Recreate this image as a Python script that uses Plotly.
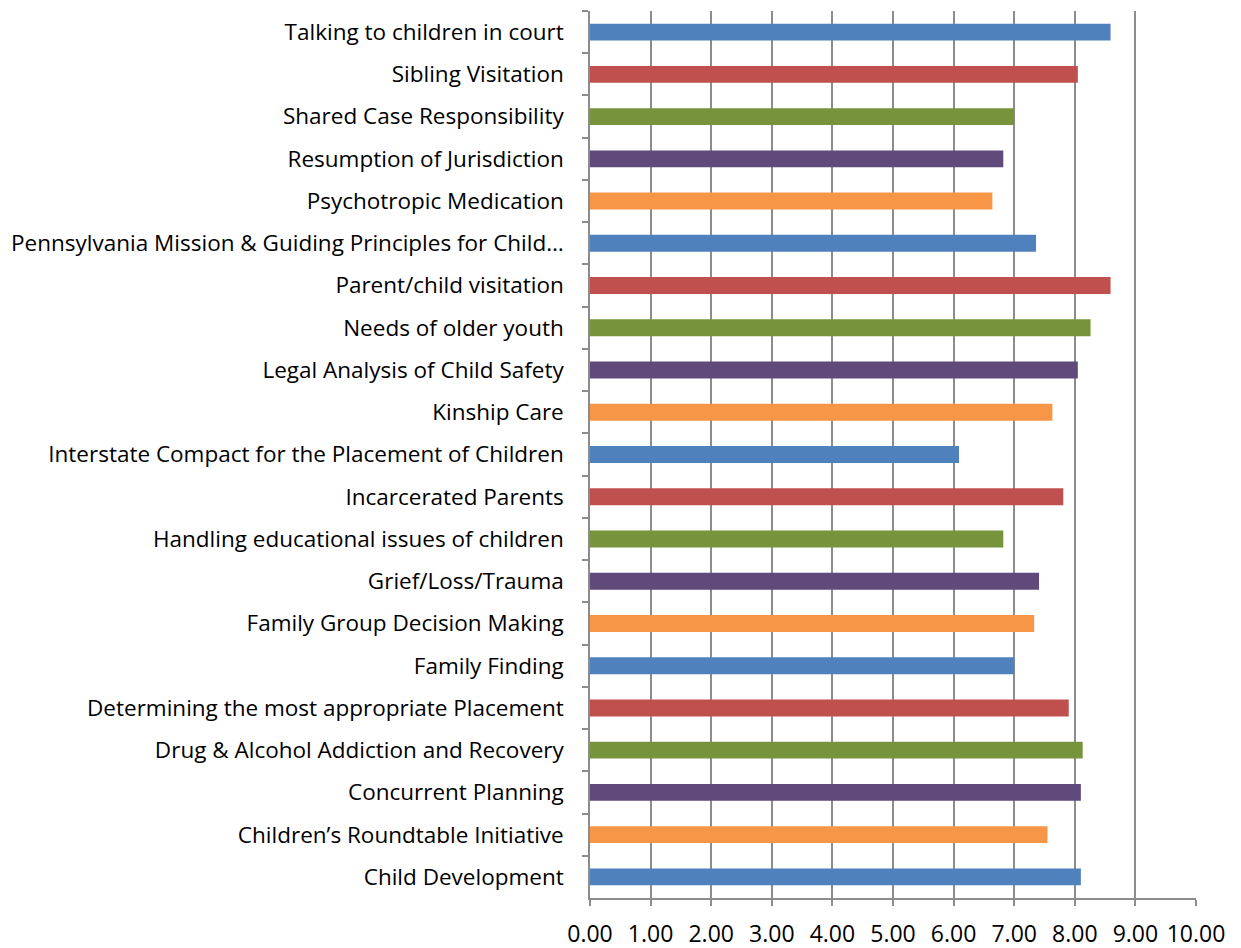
import plotly.graph_objects as go

categories = [
    "Talking to children in court",
    "Sibling Visitation",
    "Shared Case Responsibility",
    "Resumption of Jurisdiction",
    "Psychotropic Medication",
    "Pennsylvania Mission & Guiding Principles for Child…",
    "Parent/child visitation",
    "Needs of older youth",
    "Legal Analysis of Child Safety",
    "Kinship Care",
    "Interstate Compact for the Placement of Children",
    "Incarcerated Parents",
    "Handling educational issues of children",
    "Grief/Loss/Trauma",
    "Family Group Decision Making",
    "Family Finding",
    "Determining the most appropriate Placement",
    "Drug & Alcohol Addiction and Recovery",
    "Concurrent Planning",
    "Children’s Roundtable Initiative",
    "Child Development",
]
values = [8.59, 8.05, 7.00, 6.82, 6.64, 7.36, 8.59, 8.26, 8.05, 7.63, 6.09,
          7.81, 6.82, 7.41, 7.33, 7.00, 7.90, 8.13, 8.10, 7.55, 8.10]
palette = ["#4F81BD", "#C0504D", "#77933C", "#604A7B", "#F79646"]
# colours repeat from the top: blue, red, green, purple, orange
colors = [palette[i % 5] for i in range(len(categories))]

x_ticks = [0, 1, 2, 3, 4, 5, 6, 7, 8, 9, 10]

fig = go.Figure(go.Bar(
    x=values, y=categories, orientation="h",
    marker=dict(color=colors, line=dict(width=0)),
    width=0.4,
))

font_family = "'Open Sans', 'Noto Sans', sans-serif"
fig.update_layout(
    width=1241, height=948,
    margin=dict(l=582, r=53, t=3, b=58, autoexpand=False),
    plot_bgcolor="white", paper_bgcolor="white",
    showlegend=False,
    font=dict(family=font_family, size=22.5, color="black"),
    xaxis=dict(
        range=[0, 10], tickvals=x_ticks, tickformat=".2f",
        showgrid=True, gridcolor="#8C8C8C", gridwidth=1.5,
        showline=True, linecolor="#8C8C8C", linewidth=1.5,
        ticks="outside", ticklen=6, tickcolor="#8C8C8C", tickwidth=1.5,
        zeroline=False, tickfont=dict(size=23), automargin=False,
        ticklabelstandoff=9,
    ),
    yaxis=dict(
        autorange="reversed", type="category",
        showline=True, linecolor="#8C8C8C", linewidth=1.5,
        ticks="outside", ticklen=6, tickcolor="#8C8C8C", tickwidth=1.5,
        tickson="boundaries", showgrid=False, automargin=False,
        ticklabelstandoff=20, tickfont=dict(size=22.5),
    ),
)

fig.write_html("out.html")
